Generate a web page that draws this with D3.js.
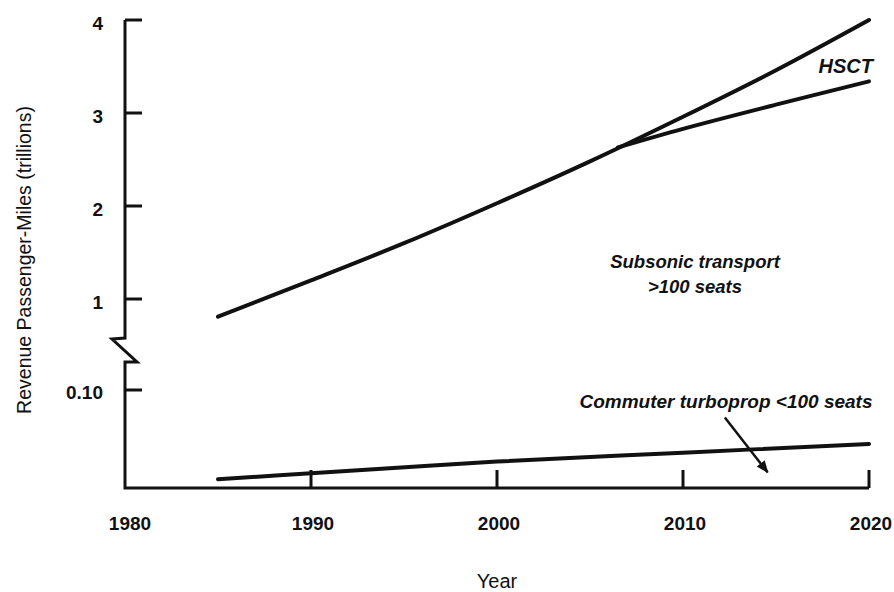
<!DOCTYPE html>
<html>
<head>
<meta charset="utf-8">
<script src="https://cdn.jsdelivr.net/npm/d3@7"></script>
<style>
  body { margin: 0; background: #fff; }
  text { font-family: "Liberation Sans", Arial, Helvetica, sans-serif; fill: #111; }
  .tick-label { font-size: 19px; font-weight: bold; }
  .note { font-weight: bold; font-style: italic; }
</style>
</head>
<body>
<svg id="chart"></svg>
<script>
// values
const xTicks = [1980, 1990, 2000, 2010, 2020];
const upperTicks = [1, 2, 3, 4];
const lowerTicks = [0.10];

const subsonicYears = [1985, 1990, 1995, 2000, 2005, 2010, 2015, 2020];
const subsonicValues = [0.81, 1.20, 1.60, 2.03, 2.48, 2.96, 3.46, 4.0];

const hsctYears = [2006.5, 2010, 2015, 2020];
const hsctValues = [2.63, 2.83, 3.09, 3.34];

const commuterYears = [1985, 1990, 2000, 2010, 2020];
const commuterValues = [0.009, 0.015, 0.027, 0.036, 0.045];

let width = 894, height = 592;

let svg = d3.select("#chart")
  .attr("width", width)
  .attr("height", height);

let x = d3.scaleLinear().domain([1980, 2020]).range([125, 869]);
// broken y axis: linear top part (trillions), linear bottom part near zero
let yTop = d3.scaleLinear().domain([1, 4]).range([299, 20]);
let yBot = d3.scaleLinear().domain([0, 0.1]).range([488, 390]);

let line = (ys) => d3.line()
  .x(d => x(d[0]))
  .y(d => ys(d[1]))
  .curve(d3.curveCatmullRom);

let zip = (a, b) => a.map((v, i) => [v, b[i]]);

// axes
let axis = svg.append("g").attr("stroke", "#111").attr("stroke-width", 3).attr("fill", "none");
let breakTop = 338, breakBot = 362;
axis.append("path")
  .attr("stroke-linejoin", "miter")
  .attr("d", "M" + x(1980) + "," + yTop(4) + "V" + breakTop +
    "L" + (x(1980) - 13) + "," + (breakTop + 1) +
    "L" + (x(1980) + 12) + "," + breakBot +
    "L" + x(1980) + "," + breakBot +
    "V" + yBot(0) + "H" + x(2020));

// y ticks (inward)
upperTicks.forEach(t => {
  axis.append("line").attr("x1", x(1980)).attr("x2", x(1980) + 17)
    .attr("y1", yTop(t)).attr("y2", yTop(t));
  svg.append("text").attr("class", "tick-label")
    .attr("x", 103).attr("y", yTop(t) + 10)
    .attr("text-anchor", "end").text(t);
});
lowerTicks.forEach(t => {
  axis.append("line").attr("x1", x(1980)).attr("x2", x(1980) + 17)
    .attr("y1", yBot(t)).attr("y2", yBot(t));
  svg.append("text").attr("class", "tick-label")
    .attr("x", 103).attr("y", yBot(t) + 9)
    .attr("text-anchor", "end").text(d3.format(".2f")(t));
});

// x ticks (inward)
xTicks.forEach(t => {
  if (t > 1980) {
    axis.append("line").attr("x1", x(t)).attr("x2", x(t))
      .attr("y1", yBot(0)).attr("y2", yBot(0) - 18);
  }
  svg.append("text").attr("class", "tick-label")
    .attr("x", x(t) + (t === 1980 ? 5 : 2)).attr("y", 530)
    .attr("text-anchor", "middle").text(t);
});

// axis titles
svg.append("text")
  .attr("x", 497).attr("y", 588)
  .attr("text-anchor", "middle")
  .style("font-size", "20px")
  .text("Year");

svg.append("text")
  .attr("transform", "translate(31,260) rotate(-90)")
  .attr("text-anchor", "middle")
  .style("font-size", "19.5px")
  .text("Revenue Passenger-Miles (trillions)");

// series
svg.append("path")
  .datum(zip(subsonicYears, subsonicValues))
  .attr("fill", "none").attr("stroke", "#111").attr("stroke-width", 4)
  .attr("stroke-linecap", "round")
  .attr("d", line(yTop));

svg.append("path")
  .datum(zip(hsctYears, hsctValues))
  .attr("fill", "none").attr("stroke", "#111").attr("stroke-width", 4)
  .attr("stroke-linecap", "round")
  .attr("d", line(yTop));

svg.append("path")
  .datum(zip(commuterYears, commuterValues))
  .attr("fill", "none").attr("stroke", "#111").attr("stroke-width", 4)
  .attr("stroke-linecap", "round")
  .attr("d", line(yBot));

// labels
svg.append("text").attr("class", "note")
  .attr("x", 873).attr("y", 73).attr("text-anchor", "end")
  .style("font-size", "20px")
  .text("HSCT");

svg.append("text").attr("class", "note")
  .attr("x", 695).attr("y", 268).attr("text-anchor", "middle")
  .style("font-size", "18.5px")
  .text("Subsonic transport");
svg.append("text").attr("class", "note")
  .attr("x", 695).attr("y", 293).attr("text-anchor", "middle")
  .style("font-size", "18.5px")
  .text(">100 seats");

svg.append("text").attr("class", "note")
  .attr("x", 726).attr("y", 408).attr("text-anchor", "middle")
  .style("font-size", "19px")
  .text("Commuter turboprop <100 seats");

// arrow to the commuter line
svg.append("defs").append("marker")
  .attr("id", "arrow")
  .attr("viewBox", "0 0 10 10")
  .attr("refX", 9).attr("refY", 5)
  .attr("markerWidth", 5).attr("markerHeight", 5)
  .attr("orient", "auto")
  .append("path").attr("d", "M0,1L10,5L0,9Z").attr("fill", "#111");

svg.append("line")
  .attr("x1", x(2012.25)).attr("y1", yBot(0.072))
  .attr("x2", x(2014.55)).attr("y2", yBot(0.016))
  .attr("stroke", "#111").attr("stroke-width", 2.5)
  .attr("marker-end", "url(#arrow)");
</script>
</body>
</html>
